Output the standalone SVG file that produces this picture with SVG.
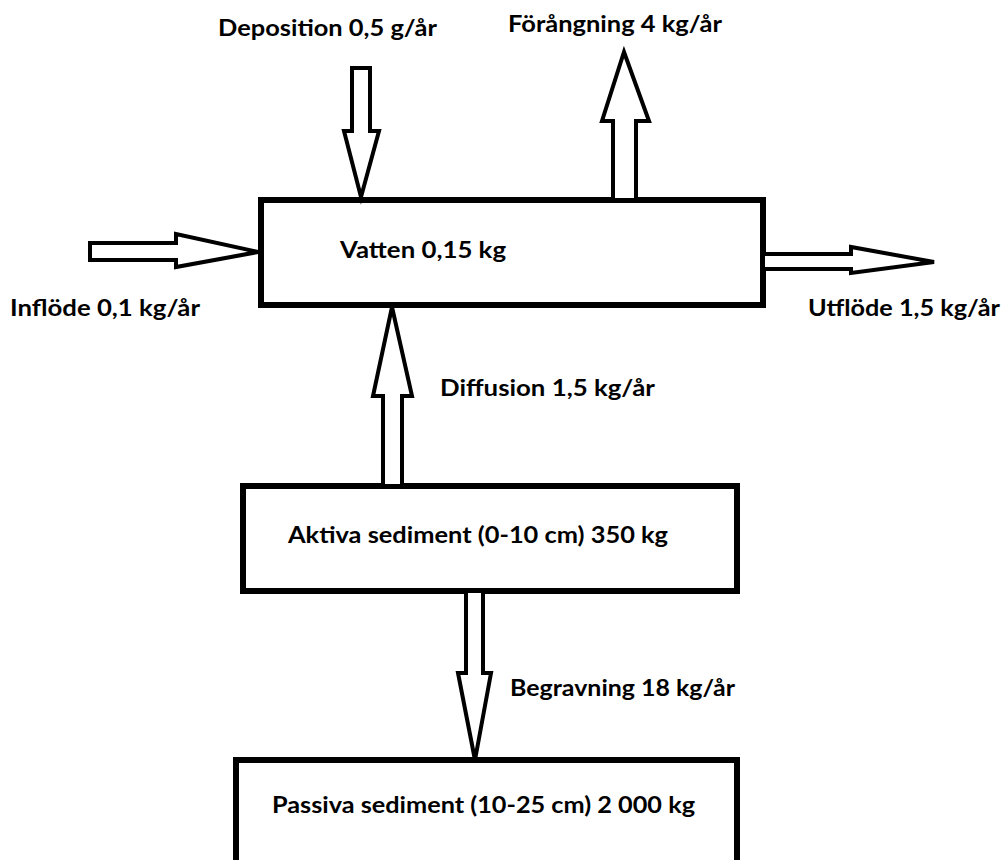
<svg xmlns="http://www.w3.org/2000/svg" width="1008" height="860" viewBox="0 0 1008 860">
<style>
.box{fill:#fff;stroke:#000;stroke-width:6}
.arr{fill:#fff;stroke:#000;stroke-width:4;stroke-linejoin:miter}
text{font-family:Lato,"Open Sans","Liberation Sans",sans-serif;font-weight:bold;font-size:22px;fill:#000}
</style>
<rect width="1008" height="860" fill="#fff"/>
<g id="vatten">
<rect class="box" x="261" y="200" width="502" height="105"/>
<text x="340" y="258" textLength="166" lengthAdjust="spacingAndGlyphs">Vatten 0,15 kg</text>
</g>
<g id="aktiva">
<rect class="box" x="243" y="486" width="494" height="105"/>
<text x="288" y="543" textLength="380" lengthAdjust="spacingAndGlyphs">Aktiva sediment (0-10 cm) 350 kg</text>
</g>
<g id="passiva">
<rect class="box" x="236" y="760" width="501" height="130"/>
<text x="272" y="813" textLength="423" lengthAdjust="spacingAndGlyphs">Passiva sediment (10-25 cm) 2 000 kg</text>
</g>
<g id="connectors">
<polygon class="arr" points="352,68 370,68 370,131 379,131 361,197 344,131 352,131"/>
<polygon class="arr" points="624,52 649,121 636,121 636,200 613,200 613,121 602,121"/>
<polygon class="arr" points="90,243 176,243 176,234 258,252 176,267 176,260 90,260"/>
<polygon class="arr" points="763,254 851,254 851,247 934,262 851,273 851,269 763,269"/>
<polygon class="arr" points="392,307 412,396 402,396 402,486 383,486 383,396 373,396"/>
<polygon class="arr" points="466,591 483,591 483,673 491,673 475,760 458,673 466,673"/>
</g>
<g id="labels">
<text x="218" y="36" textLength="219" lengthAdjust="spacingAndGlyphs">Deposition 0,5 g/år</text>
<text x="508" y="32" textLength="214" lengthAdjust="spacingAndGlyphs">Förångning 4 kg/år</text>
<text x="10" y="316" textLength="190" lengthAdjust="spacingAndGlyphs">Inflöde 0,1 kg/år</text>
<text x="808" y="316" textLength="192" lengthAdjust="spacingAndGlyphs">Utflöde 1,5 kg/år</text>
<text x="440" y="396" textLength="215" lengthAdjust="spacingAndGlyphs">Diffusion 1,5 kg/år</text>
<text x="510" y="696" textLength="225" lengthAdjust="spacingAndGlyphs">Begravning 18 kg/år</text>
</g>
</svg>
